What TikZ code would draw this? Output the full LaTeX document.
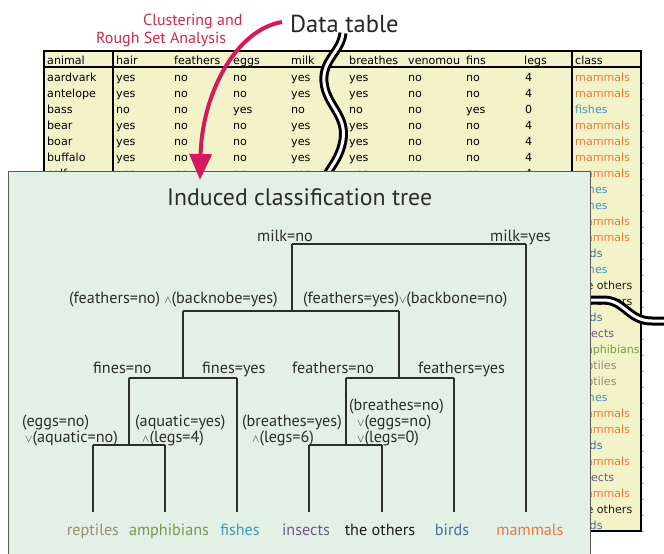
\documentclass[tikz,border=0pt]{standalone}
\usepackage{fontspec}
\setmainfont{PT Sans}
\newfontfamily\tabfont{DejaVu Sans}
\usetikzlibrary{arrows.meta}
\definecolor{tabfill}{RGB}{243,243,202}
\definecolor{boxfill}{RGB}{226,240,230}
\definecolor{arrowc}{RGB}{214,25,92}
\definecolor{redtext}{RGB}{208,40,72}
\definecolor{cmam}{RGB}{232,120,60}
\definecolor{cfish}{RGB}{72,152,175}
\definecolor{cbird}{RGB}{72,110,168}
\definecolor{cins}{RGB}{108,92,140}
\definecolor{camph}{RGB}{122,154,72}
\definecolor{crep}{RGB}{152,146,112}
\definecolor{cother}{RGB}{30,30,30}
\definecolor{treetext}{RGB}{45,45,45}
\tikzset{
  tabtxt/.style={font=\tabfont\fontsize{11.1}{13}\selectfont, anchor=base west, inner sep=0pt},
  lbl/.style={font=\fontsize{16.2}{19}\selectfont, text=treetext, anchor=base west, inner sep=0pt},
  leaf/.style={font=\fontsize{16.2}{19}\selectfont, anchor=base, inner sep=0pt},
  treeline/.style={draw=treetext, line width=1.2pt},
  redlbl/.style={font=\fontsize{16}{19}\selectfont, text=redtext, anchor=base west, inner sep=0pt},
}
\newcommand{\andop}{$\scriptstyle\wedge$}
\newcommand{\orop}{$\scriptstyle\vee$}
\begin{document}
\begin{tikzpicture}[x=1pt,y=-1pt]
\useasboundingbox (0,0) rectangle (664,554);
% ---------- data table ----------
\fill[tabfill] (44,51) rectangle (641,531);
\foreach \h/\x [count=\i] in {animal/47,hair/116,feathers/174,eggs/233,milk/291,breathes/349,venomou/408,fins/466,legs/524,class/575}
  \node[tabtxt] (hd\i) at (\x,64.5) {\h};
\foreach \a/\b/\c/\d/\e/\f/\g/\h/\k [count=\r from 0] in {
  aardvark/yes/no/no/yes/yes/no/no/4,
  antelope/yes/no/no/yes/yes/no/no/4,
  bass/no/no/yes/no/no/no/yes/0,
  bear/yes/no/no/yes/yes/no/no/4,
  boar/yes/no/no/yes/yes/no/no/4,
  buffalo/yes/no/no/yes/yes/no/no/4,
  calf/yes/no/no/yes/yes/no/no/4}{
  \node[tabtxt] (ra\r) at (47,{81+16*\r}) {\a};
  \node[tabtxt] (rb\r) at (116,{81+16*\r}) {\b};
  \node[tabtxt] (rc\r) at (174,{81+16*\r}) {\c};
  \node[tabtxt] (rd\r) at (233,{81+16*\r}) {\d};
  \node[tabtxt] (re\r) at (291,{81+16*\r}) {\e};
  \node[tabtxt] (rf\r) at (349,{81+16*\r}) {\f};
  \node[tabtxt] (rg\r) at (408,{81+16*\r}) {\g};
  \node[tabtxt] (rh\r) at (466,{81+16*\r}) {\h};
  \node[tabtxt] (rk\r) at (525,{81+16*\r}) {\k};
}
\foreach \cls/\col [count=\r from 0] in {
  mammals/cmam,mammals/cmam,fishes/cfish,mammals/cmam,mammals/cmam,mammals/cmam,
  mammals/cmam,fishes/cfish,fishes/cfish,mammals/cmam,mammals/cmam,birds/cbird,
  fishes/cfish,the others/cother,the others/cother,birds/cbird,insects/cins,
  amphibians/camph,reptiles/crep,reptiles/crep,fishes/cfish,mammals/cmam,
  mammals/cmam,birds/cbird,mammals/cmam,insects/cins,mammals/cmam,
  the others/cother,birds/cbird}
  \node[tabtxt,text=\col] (cls\r) at (575,{81+16*\r}) {\cls};
\foreach \r in {1,...,29}
  \draw[gray!70,line width=0.6pt] (641,{67+16*\r}) -- (644,{67+16*\r});
\draw[line width=1.2pt] (44,51) rectangle (641,531);
\draw[line width=1.2pt] (44,67) -- (641,67);
\draw[line width=1.2pt] (113,51) -- (113,531);
\draw[line width=1.2pt] (572,51) -- (572,531);
% ---------- break marks ----------
\def\vwave{(343,33) .. controls (341,52) and (322,60) .. (324,82) .. controls (326,105) and (347,115) .. (343,140) .. controls (340,158) and (331,166) .. (325,178)}
\def\hwave{(570,300) -- (603,300) .. controls (625,300) and (628,321) .. (652,321) -- (664,321)}
\draw[line width=9pt] \vwave;
\draw[line width=3pt,white] \vwave;
\draw[line width=9pt] \hwave;
\draw[line width=3pt,white] \hwave;
% ---------- tree panel ----------
\fill[boxfill] (8,171) rectangle (590,560);
\draw[line width=1pt,black!65] (8,560) -- (8,171) -- (590,171) -- (590,560);
\node[font=\fontsize{23.8}{28}\selectfont, text=treetext, anchor=base west, inner sep=0pt] (title) at (167,205) {Induced classification tree};
% junctions
\coordinate (rL) at (292,244); \coordinate (rR) at (526,244);
\coordinate (a) at (292,311); \coordinate (aL) at (183,311); \coordinate (aR) at (399,311);
\coordinate (b) at (183,378); \coordinate (bL) at (129,378); \coordinate (bR) at (237,378);
\coordinate (c) at (399,378); \coordinate (cL) at (346,378); \coordinate (cR) at (454,378);
\coordinate (d) at (129,445); \coordinate (dL) at (93,445); \coordinate (dR) at (165,445);
\coordinate (e) at (346,445); \coordinate (eL) at (309,445); \coordinate (eR) at (382,445);
\coordinate (lrep) at (93,512); \coordinate (lamp) at (165,512); \coordinate (lfis) at (237,512);
\coordinate (lins) at (309,512); \coordinate (loth) at (382,512); \coordinate (lbir) at (454,512);
\coordinate (lmam) at (526,512);
\draw[treeline] (rL) -- (rR);
\draw[treeline] (rL) -- (a);
\draw[treeline] (rR) -- (lmam);
\draw[treeline] (aL) -- (aR);
\draw[treeline] (aL) -- (b);
\draw[treeline] (aR) -- (c);
\draw[treeline] (bL) -- (bR);
\draw[treeline] (bL) -- (d);
\draw[treeline] (bR) -- (lfis);
\draw[treeline] (cL) -- (cR);
\draw[treeline] (cL) -- (e);
\draw[treeline] (cR) -- (lbir);
\draw[treeline] (dL) -- (dR);
\draw[treeline] (dL) -- (lrep);
\draw[treeline] (dR) -- (lamp);
\draw[treeline] (eL) -- (eR);
\draw[treeline] (eL) -- (lins);
\draw[treeline] (eR) -- (loth);
% branch labels
\node[lbl] (m1) at (257,241) {milk=no};
\node[lbl] (m2) at (490,241) {milk=yes};
\node[lbl] (f1) at (69,303) {(feathers=no) \andop(backnobe=yes)};
\node[lbl] (f2) at (303,303) {(feathers=yes)\orop(backbone=no)};
\node[lbl] (g1) at (93,373) {fines=no};
\node[lbl] (g2) at (202,373) {fines=yes};
\node[lbl] (h1) at (292,373) {feathers=no};
\node[lbl] (h2) at (418,373) {feathers=yes};
\node[lbl] (i1) at (22,426) {(eggs=no)};
\node[lbl] (i2) at (25,442) {\orop(aquatic=no)};
\node[lbl] (j1) at (135,426) {(aquatic=yes)};
\node[lbl] (j2) at (142,442) {\andop(legs=4)};
\node[lbl] (k1) at (242,426) {(breathes=yes)};
\node[lbl] (k2) at (252,442) {\andop(legs=6)};
\node[lbl] (n1) at (349,410.5) {(breathes=no)};
\node[lbl] (n2) at (357,426) {\orop(eggs=no)};
\node[lbl] (n3) at (357,442) {\orop(legs=0)};
% leaves
\node[leaf,text=crep] (Lrep) at (93,535) {reptiles};
\node[leaf,text=camph] (Lamp) at (169,535) {amphibians};
\node[leaf,text=cfish] (Lfis) at (240,535) {fishes};
\node[leaf,text=cins] (Lins) at (306,535) {insects};
\node[leaf,text=cother] (Loth) at (380,535) {the others};
\node[leaf,text=cbird] (Lbir) at (452,535) {birds};
\node[leaf,text=cmam] (Lmam) at (530,535) {mammals};
% ---------- headline and arrow ----------
\node[font=\fontsize{24.5}{28}\selectfont, text=black!85, anchor=base west, inner sep=0pt] (dt) at (290,32) {Data table};
\node[redlbl] (cl1) at (143,25) {Clustering and};
\node[redlbl] (cl2) at (96,43) {Rough Set Analysis};
\coordinate (as) at (282,22);
\coordinate (ae) at (200,180);
\draw[arrowc, line width=4pt, -{Triangle[length=26pt,width=22pt]}] (as) .. controls (235,30) and (202,95) .. (ae);
\end{tikzpicture}
\end{document}
